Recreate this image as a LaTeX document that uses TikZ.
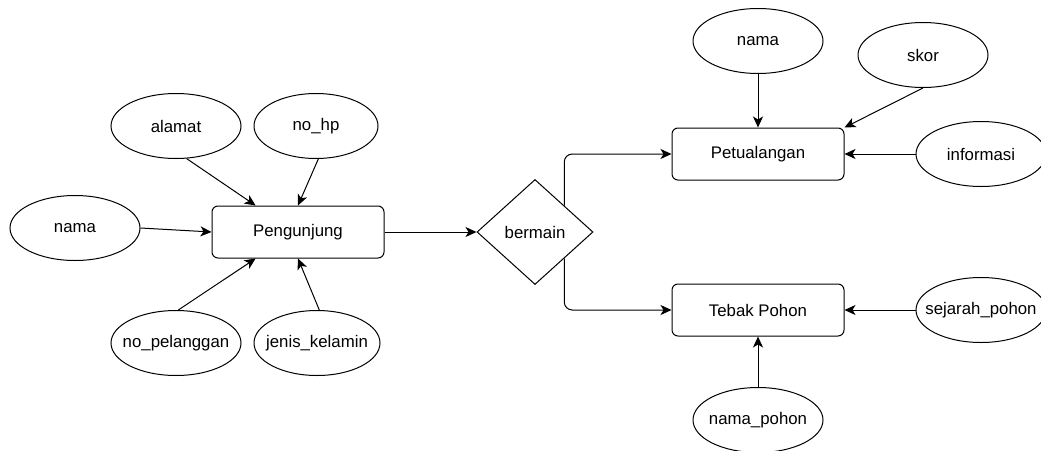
\documentclass[tikz,border=0pt]{standalone}
\usepackage{fontspec}
\setmainfont{Liberation Sans}
\usetikzlibrary{shapes.geometric,arrows.meta}

\begin{document}
\begin{tikzpicture}[x=1pt,y=-1pt,line width=1pt,
	attr/.style={draw, ellipse, minimum width=130pt, minimum height=65pt, inner sep=0pt, inner xsep=-16pt, font=\fontsize{16.8}{20}\selectfont},
	ent/.style={draw, rounded corners=6pt, minimum width=172pt, minimum height=52pt, font=\fontsize{16.8}{20}\selectfont},
	rel/.style={draw, diamond, minimum width=116pt, minimum height=105pt, inner sep=0pt, font=\fontsize{16.8}{20}\selectfont},
	arr/.style={-{Stealth[length=11pt,width=10pt,inset=3pt]}}]
	\useasboundingbox (0,0) rectangle (1041,450);
	\draw (298,232) node[ent](peng) {Pengunjung};
	\draw (535,232) node[rel](ber) {bermain};
	\draw (758,154) node[ent](pet) {Petualangan};
	\draw (758,310) node[ent](teb) {Tebak Pohon};
	\draw (75,228) node[attr](nama1) {nama};
	\draw (176,126) node[attr](alamat) {alamat};
	\draw (316,126) node[attr, minimum width=124pt](nohp) {no\_hp};
	\draw (176,343) node[attr](nopel) {no\_pelanggan};
	\draw (317,343) node[attr, minimum width=126pt](jenis) {jenis\_kelamin};
	\draw (758,41) node[attr](nama2) {nama};
	\draw (923,55) node[attr](skor) {skor};
	\draw (981,154) node[attr](info) {informasi};
	\draw (981,310) node[attr](sej) {sejarah\_pohon};
	\draw (758,420) node[attr](namap) {nama\_pohon};
	\draw[arr] (peng) -- (ber);
	\draw[arr, rounded corners=8pt] (ber.north east) |- (pet.west);
	\draw[arr, rounded corners=8pt] (ber.south east) |- (teb.west);
	\draw[arr] (nama1.east) -- (peng.west);
	\draw[arr] (alamat.-72) -- (peng.148);
	\draw[arr] (nohp.-86) -- (peng.north);
	\draw[arr] (nopel.86) -- (peng.212);
	\draw[arr] (jenis.86) -- (peng.south);
	\draw[arr] (nama2) -- (pet);
	\draw[arr] (skor.south) -- (pet.north east);
	\draw[arr] (info) -- (pet);
	\draw[arr] (sej) -- (teb);
	\draw[arr] (namap) -- (teb);
\end{tikzpicture}
\end{document}
